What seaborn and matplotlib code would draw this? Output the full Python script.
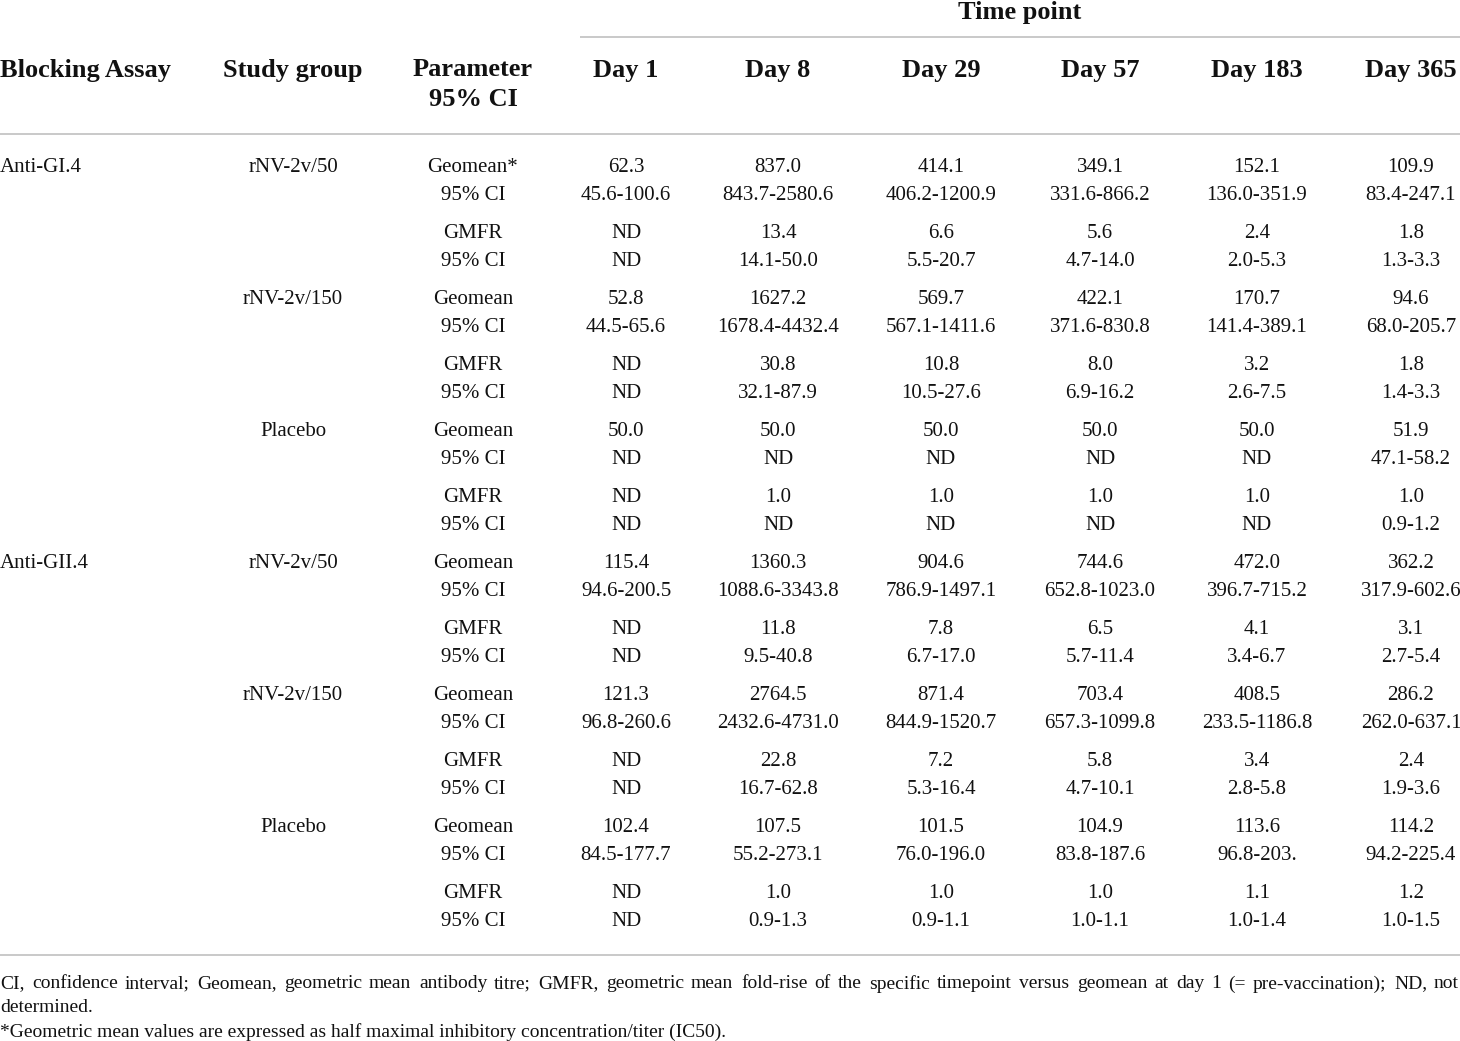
import numpy as np
import pandas as pd
import matplotlib
matplotlib.use("Agg")
import matplotlib.pyplot as plt
import seaborn as sns

# Table content
days = ["Day 1", "Day 8", "Day 29", "Day 57", "Day 183", "Day 365"]
assays = ["Anti-GI.4", "Anti-GII.4"]
groups = ["rNV-2v/50", "rNV-2v/150", "Placebo"]
params = ["Geomean", "95% CI", "GMFR", "95% CI"]

gi4_50 = [["62.3", "837.0", "414.1", "349.1", "152.1", "109.9"],
          ["45.6-100.6", "843.7-2580.6", "406.2-1200.9", "331.6-866.2", "136.0-351.9", "83.4-247.1"],
          ["ND", "13.4", "6.6", "5.6", "2.4", "1.8"],
          ["ND", "14.1-50.0", "5.5-20.7", "4.7-14.0", "2.0-5.3", "1.3-3.3"]]
gi4_150 = [["52.8", "1627.2", "569.7", "422.1", "170.7", "94.6"],
           ["44.5-65.6", "1678.4-4432.4", "567.1-1411.6", "371.6-830.8", "141.4-389.1", "68.0-205.7"],
           ["ND", "30.8", "10.8", "8.0", "3.2", "1.8"],
           ["ND", "32.1-87.9", "10.5-27.6", "6.9-16.2", "2.6-7.5", "1.4-3.3"]]
gi4_pla = [["50.0", "50.0", "50.0", "50.0", "50.0", "51.9"],
           ["ND", "ND", "ND", "ND", "ND", "47.1-58.2"],
           ["ND", "1.0", "1.0", "1.0", "1.0", "1.0"],
           ["ND", "ND", "ND", "ND", "ND", "0.9-1.2"]]
gii4_50 = [["115.4", "1360.3", "904.6", "744.6", "472.0", "362.2"],
           ["94.6-200.5", "1088.6-3343.8", "786.9-1497.1", "652.8-1023.0", "396.7-715.2", "317.9-602.6"],
           ["ND", "11.8", "7.8", "6.5", "4.1", "3.1"],
           ["ND", "9.5-40.8", "6.7-17.0", "5.7-11.4", "3.4-6.7", "2.7-5.4"]]
gii4_150 = [["121.3", "2764.5", "871.4", "703.4", "408.5", "286.2"],
            ["96.8-260.6", "2432.6-4731.0", "844.9-1520.7", "657.3-1099.8", "233.5-1186.8", "262.0-637.1"],
            ["ND", "22.8", "7.2", "5.8", "3.4", "2.4"],
            ["ND", "16.7-62.8", "5.3-16.4", "4.7-10.1", "2.8-5.8", "1.9-3.6"]]
gii4_pla = [["102.4", "107.5", "101.5", "104.9", "113.6", "114.2"],
            ["84.5-177.7", "55.2-273.1", "76.0-196.0", "83.8-187.6", "96.8-203.", "94.2-225.4"],
            ["ND", "1.0", "1.0", "1.0", "1.1", "1.2"],
            ["ND", "0.9-1.3", "0.9-1.1", "1.0-1.1", "1.0-1.4", "1.0-1.5"]]

blocks = [gi4_50, gi4_150, gi4_pla, gii4_50, gii4_150, gii4_pla]

footnote1 = ("CI, confidence interval; Geomean, geometric mean antibody titre; GMFR, geometric mean "
             "fold-rise of the specific timepoint versus geomean at day 1 (= pre-vaccination); ND, not")
footnote2 = "determined."
footnote3 = "*Geometric mean values are expressed as half maximal inhibitory concentration/titer (IC50)."

# long table for drawing
records = []
for b, blk in enumerate(blocks):
    for r, row in enumerate(blk):
        for c, val in enumerate(row):
            records.append({"block": b, "row": r, "col": c, "text": val})
df = pd.DataFrame(records)

sns.set_theme(style="white")
plt.rcParams["font.family"] = ["Liberation Serif", "DejaVu Serif"]

W, H = 1460, 1041
fig = plt.figure(figsize=(W / 100, H / 100), dpi=100)
ax = fig.add_axes([0, 0, 1, 1])
ax.set_xlim(0, W)
ax.set_ylim(H, 0)
ax.axis("off")

body_fs = 15
head_fs = 19
foot_fs = 14
line_col = "#c9c9c9"
dy = 2  # small shift so text centres sit like the reference

x_assay = 0
x_group = 293
x_param = 473
x_days = [626, 778, 941, 1100, 1257, 1411]
row_off = [0, 29, 66, 95]
y0, block_h = 165, 132


def put(x, y, s, ha="center", fs=body_fs, **kw):
    return ax.text(x, y + dy, s, ha=ha, va="center", fontsize=fs, color="#111111", **kw)


# header
put(1020, 11, "Time point", fs=head_fs, fontweight="bold")
ax.plot([580, W], [37, 37], color=line_col, lw=1.4, solid_capstyle="butt")
put(x_assay, 68, "Blocking Assay", ha="left", fs=head_fs, fontweight="bold")
put(x_group, 68, "Study group", fs=head_fs, fontweight="bold")
put(x_param, 68, "Parameter", fs=head_fs, fontweight="bold")
put(x_param, 98, "95% CI", fs=head_fs, fontweight="bold")
for x, d in zip(x_days, days):
    put(x, 68, d, fs=head_fs, fontweight="bold")
ax.plot([0, W], [134, 134], color=line_col, lw=1.4, solid_capstyle="butt")

# row labels
for b in range(len(blocks)):
    yb = y0 + b * block_h
    if b % 3 == 0:
        put(x_assay, yb, assays[b // 3], ha="left")
    put(x_group, yb, groups[b % 3])
    for r, p in enumerate(params):
        lab = p + "*" if (b == 0 and r == 0) else p
        put(x_param, yb + row_off[r], lab)

# values
for _, rec in df.iterrows():
    y = y0 + rec["block"] * block_h + row_off[rec["row"]]
    put(x_days[rec["col"]], y, rec["text"])

ax.plot([0, W], [955, 955], color=line_col, lw=1.4, solid_capstyle="butt")

# justified first footnote line
renderer = fig.canvas.get_renderer()
words = footnote1.split(" ")
txts = [put(0, 982, w, ha="left", fs=foot_fs) for w in words]
widths = [t.get_window_extent(renderer).width for t in txts]
gap = (W - 1 - sum(widths)) / (len(words) - 1)
x = 0.0
for t, w in zip(txts, widths):
    t.set_x(round(x))
    x += w + gap
put(0, 1006, footnote2, ha="left", fs=foot_fs)
put(0, 1030, footnote3, ha="left", fs=foot_fs)

fig.savefig("out.png", dpi=100)
